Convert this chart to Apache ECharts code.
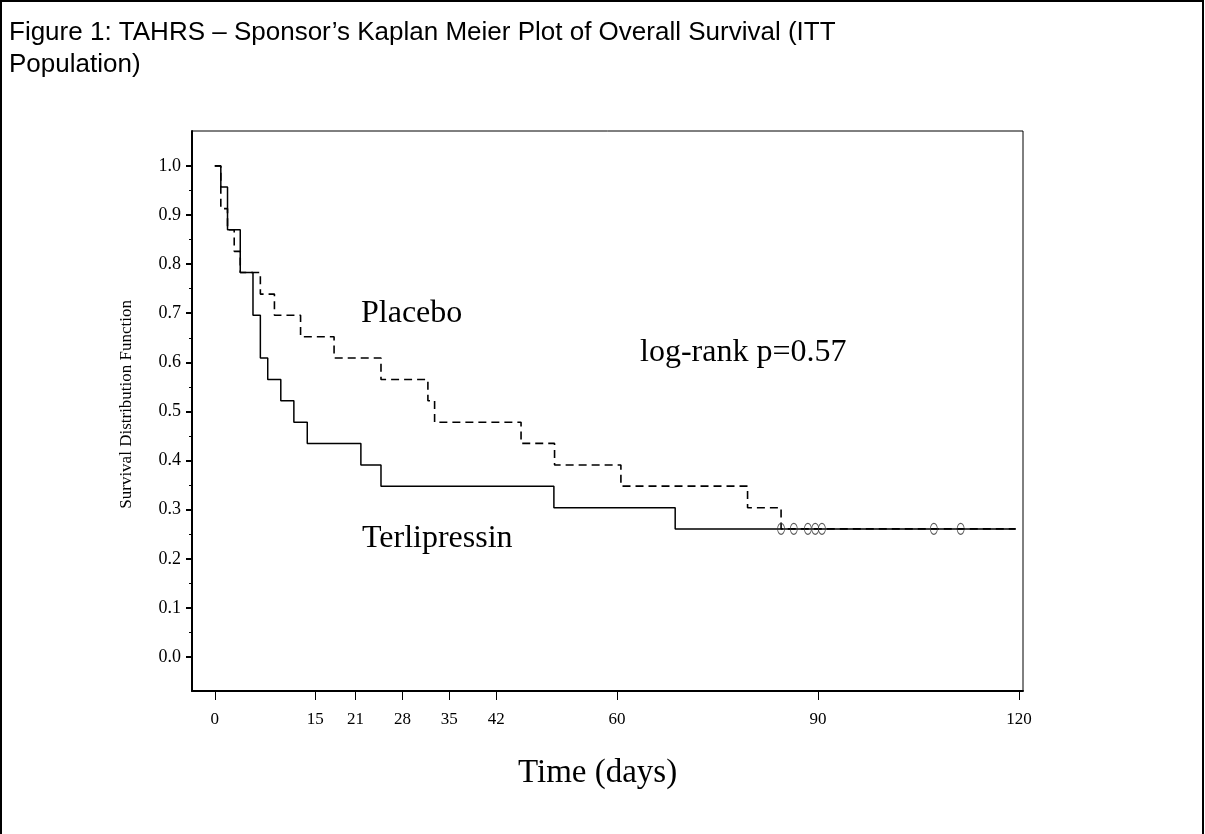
<!DOCTYPE html>
<html>
<head>
<meta charset="utf-8">
<script src="https://cdn.jsdelivr.net/npm/echarts@6/dist/echarts.min.js"></script>
<style>
html,body{margin:0;padding:0;background:#fff;}
#chart{width:1205px;height:834px;}
</style>
</head>
<body>
<div id="chart"></div>
<script>
// Kaplan-Meier step data: [day, survival]
const terliTimes = [0, 0.9, 1.9, 3.8, 5.7, 6.8, 7.9, 9.85, 11.8, 13.8, 21.8, 24.8, 50.6, 68.7, 119.5];
const terliSurv  = [1.0, 0.957, 0.870, 0.783, 0.696, 0.609, 0.565, 0.522, 0.478, 0.435, 0.391, 0.348, 0.304, 0.261, 0.261];
const placeboTimes = [0, 0.9, 1.9, 2.9, 3.8, 6.8, 8.9, 12.8, 17.8, 24.8, 31.8, 32.8, 45.7, 50.7, 60.6, 79.5, 84.5, 119.5];
const placeboSurv  = [1.0, 0.913, 0.870, 0.826, 0.783, 0.739, 0.696, 0.652, 0.609, 0.565, 0.522, 0.478, 0.435, 0.391, 0.348, 0.304, 0.261, 0.261];
const censorTimes = [84.5, 86.4, 88.5, 89.6, 90.6, 107.3, 111.3];
const censorSurv  = [0.261, 0.261, 0.261, 0.261, 0.261, 0.261, 0.261];
const xTickLabels = [0, 15, 21, 28, 35, 42, 60, 90, 120];
const yTickLabels = [0, 0.1, 0.2, 0.3, 0.4, 0.5, 0.6, 0.7, 0.8, 0.9, 1.0];
const yMinorTicks = [0.05, 0.15, 0.25, 0.35, 0.45, 0.55, 0.65, 0.75, 0.85, 0.95];

const zip = (a, b) => a.map((v, i) => [v, b[i]]);
const serif = 'Liberation Serif';
const X_MIN = -3.4, X_MAX = 120.6, Y_MIN = -0.069, Y_MAX = 1.071;

const chart = echarts.init(document.getElementById('chart'), null, {renderer: 'canvas'});
chart.setOption({
  animation: false,
  backgroundColor: '#fff',
  title: {
    text: 'Figure 1: TAHRS – Sponsor’s Kaplan Meier Plot of Overall Survival (ITT\nPopulation)',
    left: 4, top: 12,
    textStyle: {fontFamily: 'Liberation Sans', fontSize: 26, fontWeight: 'normal', color: '#000', lineHeight: 32}
  },
  grid: {left: 192, top: 131, right: 182, bottom: 143, show: true, borderColor: '#000', borderWidth: 1, containLabel: false},
  xAxis: {
    type: 'value', min: X_MIN, max: X_MAX,
    axisLine: {show: true, onZero: false, lineStyle: {color: '#000', width: 2}},
    axisTick: {show: true, length: 9, customValues: xTickLabels, lineStyle: {color: '#000', width: 1}},
    axisLabel: {customValues: xTickLabels, fontFamily: serif, fontSize: 17, color: '#000', margin: 20},
    splitLine: {show: false}
  },
  yAxis: [{
    type: 'value', min: Y_MIN, max: Y_MAX,
    axisLine: {show: true, onZero: false, lineStyle: {color: '#000', width: 2}},
    axisTick: {show: true, length: 6, customValues: yTickLabels, lineStyle: {color: '#000', width: 2}},
    axisLabel: {customValues: yTickLabels, formatter: v => v.toFixed(1), fontFamily: serif, fontSize: 18, color: '#000', margin: 11},
    splitLine: {show: false}
  }, {
    type: 'value', min: Y_MIN, max: Y_MAX, position: 'left',
    axisLine: {show: false, onZero: false},
    axisTick: {show: true, length: 3, customValues: yMinorTicks, lineStyle: {color: '#000', width: 1}},
    axisLabel: {show: false},
    splitLine: {show: false}
  }],
  series: [
    {
      name: 'Placebo', type: 'line', step: 'end', showSymbol: false,
      data: zip(placeboTimes, placeboSurv),
      lineStyle: {color: '#000', width: 1.6, type: [8, 5]}, z: 2
    },
    {
      name: 'Terlipressin', type: 'line', step: 'end', showSymbol: false,
      data: zip(terliTimes, terliSurv),
      lineStyle: {color: '#000', width: 1.5, type: 'solid'}, z: 3
    },
    {
      name: 'Censored', type: 'scatter', symbol: 'circle', symbolSize: [7, 11],
      data: zip(censorTimes, censorSurv),
      itemStyle: {color: 'rgba(0,0,0,0)', borderColor: '#333', borderWidth: 1}, z: 4
    }
  ],
  graphic: [
    {type: 'polyline', shape: {points: [[1, 834], [1, 1], [1203, 1], [1203, 834]]}, style: {stroke: '#000', lineWidth: 2, fill: null}},
    {type: 'text', left: 361, top: 298, style: {text: 'Placebo', font: '32px "Liberation Serif"', fill: '#000'}},
    {type: 'text', left: 640, top: 337, style: {text: 'log-rank p=0.57', font: '32px "Liberation Serif"', fill: '#000'}},
    {type: 'text', left: 362, top: 523, style: {text: 'Terlipressin', font: '32px "Liberation Serif"', fill: '#000'}},
    {type: 'text', left: 518, top: 757, style: {text: 'Time (days)', font: '33px "Liberation Serif"', fill: '#000'}},
    {type: 'text', rotation: Math.PI / 2, left: 118, top: 300, style: {text: 'Survival Distribution Function', font: '17px "Liberation Serif"', fill: '#000'}}
  ]
});
</script>
</body>
</html>
